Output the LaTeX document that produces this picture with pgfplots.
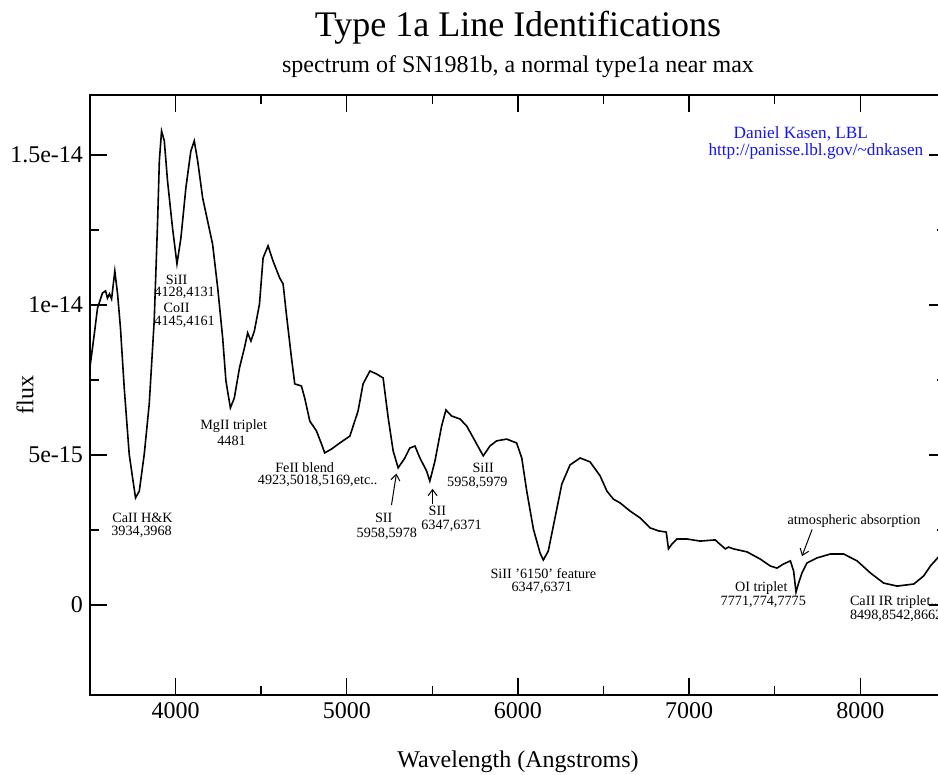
\documentclass[border=0pt]{standalone}
\usepackage{fontspec}
\setmainfont{Liberation Serif}
\usepackage{pgfplots}
\pgfplotsset{compat=1.18}
\usetikzlibrary{arrows.meta}
\definecolor{kasenblue}{RGB}{20,20,250}
\newcommand\lab{\fontsize{7.1}{8.5}\selectfont}

\begin{document}
\begin{tikzpicture}
\begin{axis}[
  at={(0,0)}, anchor=south west,
  width=428pt, height=300pt, scale only axis,
  xmin=3500, xmax=8500, ymin=-3, ymax=17,
  axis line style={line width=1pt},
  tick align=inside, tick pos=both,
  major tick length=8.5pt, minor tick length=4.5pt,
  every tick/.style={black, line width=0.7pt},
  xtick={4000,5000,6000,7000,8000},
  xticklabels={4000,5000,6000,7000,8000},
  minor x tick num=1,
  ytick={0,5,10,15},
  yticklabels={0,5e-15,1e-14,1.5e-14},
  minor y tick num=1,
  tick label style={font=\fontsize{12}{14}\selectfont},
  xlabel={Wavelength (Angstroms)},
  ylabel={flux},
  label style={font=\fontsize{12}{14}\selectfont},
  xlabel style={at={(axis description cs:0.5,-0.1117)}, anchor=center},
  ylabel style={at={(axis description cs:-0.0759,0.5)}, anchor=center},
  clip=false,
]
\addplot[black, line width=0.8pt] coordinates {
(3500,7.93) (3525,9.03) (3544,9.90) (3573,10.40) (3591,10.47) (3602,10.23)
(3614,10.37) (3626,10.20) (3645,11.13) (3661,10.37) (3678,9.23) (3700,7.23)
(3729,5.03) (3749,4.23) (3766,3.57) (3788,3.80) (3817,5.03) (3846,6.70)
(3875,9.47) (3895,12.80) (3905,14.80) (3918,15.80) (3934,15.47) (3953,14.13)
(3982,12.57) (4008,11.37) (4031,12.23) (4060,13.90) (4089,15.13) (4109,15.47)
(4129,14.80) (4158,13.57) (4187,12.80) (4216,12.03) (4246,10.57) (4275,8.90)
(4294,7.47) (4320,6.57) (4343,6.90) (4373,7.90) (4402,8.57) (4421,9.07)
(4440,8.80) (4460,9.13) (4490,10.03) (4511,11.57) (4540,11.97) (4569,11.47)
(4608,10.90) (4628,10.70) (4647,9.70) (4677,8.23) (4696,7.37) (4735,7.30)
(4754,6.90) (4784,6.13) (4823,5.80) (4852,5.37) (4871,5.07) (4911,5.20)
(4959,5.40) (5018,5.63) (5066,6.47) (5095,7.37) (5135,7.80) (5174,7.70)
(5212,7.57) (5242,6.23) (5271,5.13) (5300,4.57) (5339,4.90) (5368,5.23)
(5398,5.30) (5427,4.90) (5466,4.47) (5485,4.13) (5515,4.80) (5554,5.97)
(5579,6.50) (5612,6.30) (5661,6.20) (5700,5.97) (5739,5.57) (5797,4.97)
(5836,5.30) (5875,5.47) (5934,5.53) (5992,5.40) (6022,4.90) (6051,3.80)
(6090,2.53) (6129,1.73) (6148,1.50) (6177,1.80) (6216,2.90) (6256,4.03)
(6304,4.67) (6363,4.90) (6421,4.77) (6480,4.30) (6519,3.80) (6557,3.53)
(6597,3.40) (6655,3.13) (6714,2.90) (6772,2.57) (6821,2.47) (6866,2.43)
(6879,1.87) (6899,2.03) (6928,2.20) (6987,2.20) (7064,2.13) (7152,2.17)
(7171,2.07) (7211,1.87) (7230,1.93) (7259,1.87) (7338,1.77) (7415,1.53)
(7474,1.30) (7513,1.23) (7552,1.37) (7591,1.47) (7610,1.13) (7624,0.43)
(7639,0.73) (7659,1.07) (7688,1.40) (7747,1.57) (7825,1.70) (7902,1.70)
(7981,1.47) (8058,1.07) (8136,0.73) (8215,0.63) (8312,0.70) (8370,0.97)
(8409,1.30) (8456,1.60) (8500,1.97)
};
% titles
\node[anchor=base, font=\fontsize{18}{20}\selectfont] at (rel axis cs:0.5,1) [yshift=29pt] {Type 1a Line Identifications};
\node[anchor=base, font=\fontsize{12}{14}\selectfont] at (rel axis cs:0.5,1) [yshift=11pt] {spectrum of SN1981b, a normal type1a near max};
% credit
\node[kasenblue, font=\fontsize{8.6}{10}\selectfont] at (axis cs:7652,15.72) {Daniel Kasen, LBL};
\node[kasenblue, font=\fontsize{8.6}{10}\selectfont] at (axis cs:7740,15.13) {http://panisse.lbl.gov/\textasciitilde dnkasen};
% line identifications
\node[font=\lab] at (axis cs:4006,10.83) {SiII};
\node[font=\lab] at (axis cs:4053,10.40) {4128,4131};
\node[font=\lab] at (axis cs:4006,9.90) {CoII};
\node[font=\lab] at (axis cs:4053,9.43) {4145,4161};
\node[font=\lab] at (axis cs:4339,5.97) {MgII triplet};
\node[font=\lab] at (axis cs:4327,5.47) {4481};
\node[font=\lab] at (axis cs:4754,4.57) {FeII blend};
\node[font=\lab] at (axis cs:4830,4.13) {4923,5018,5169,etc..};
\node[font=\lab] at (axis cs:3807,2.90) {CaII H\&K};
\node[font=\lab] at (axis cs:3801,2.43) {3934,3968};
\node[font=\lab] at (axis cs:5216,2.90) {SII};
\node[font=\lab] at (axis cs:5234,2.37) {5958,5978};
\draw[-{Straight Barb[length=3pt,width=4.5pt]}, line width=0.5pt] (axis cs:5261,3.33) -- (axis cs:5290,4.38);
\node[font=\lab] at (axis cs:5529,3.13) {SII};
\node[font=\lab] at (axis cs:5612,2.63) {6347,6371};
\draw[-{Straight Barb[length=3pt,width=4.5pt]}, line width=0.5pt] (axis cs:5501,3.37) -- (axis cs:5501,3.87);
\node[font=\lab] at (axis cs:5797,4.57) {SiII};
\node[font=\lab] at (axis cs:5763,4.07) {5958,5979};
\node[font=\lab] at (axis cs:6148,1.05) {SiII '6150' feature};
\node[font=\lab] at (axis cs:6139,0.58) {6347,6371};
\node[font=\lab] at (axis cs:7421,0.56) {OI triplet};
\node[font=\lab] at (axis cs:7433,0.11) {7771,774,7775};
\node[font=\lab] at (axis cs:7963,2.80) {atmospheric absorption};
\draw[-{Straight Barb[length=3pt,width=4.5pt]}, line width=0.5pt] (axis cs:7718,2.52) -- (axis cs:7659,1.63);
\node[font=\lab, anchor=west, inner sep=0pt] at (axis cs:7937,0.11) {CaII IR triplet...};
\node[font=\lab, anchor=west, inner sep=0pt] at (axis cs:7937,-0.37) {8498,8542,8662};
\end{axis}
\pgfresetboundingbox
\path[use as bounding box] (-45pt,-40pt) rectangle (424pt,347.5pt);
\end{tikzpicture}
\end{document}
